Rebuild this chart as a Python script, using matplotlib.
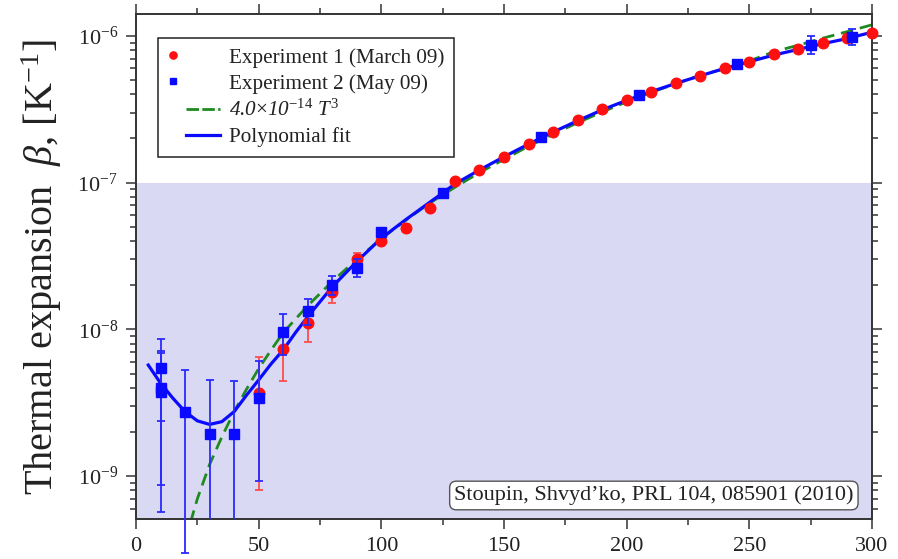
import numpy as np
import matplotlib
matplotlib.use("Agg")
import matplotlib.pyplot as plt
from matplotlib.ticker import MultipleLocator, NullFormatter
from matplotlib.lines import Line2D
from matplotlib.legend_handler import HandlerLine2D

plt.rcParams['font.family'] = ['Liberation Serif', 'DejaVu Serif']
plt.rcParams['mathtext.fontset'] = 'custom'
plt.rcParams['mathtext.rm'] = 'Liberation Serif'
plt.rcParams['mathtext.it'] = 'Liberation Serif:italic'
plt.rcParams['mathtext.bf'] = 'Liberation Serif:bold'

# --- data ---

# Experiment 1 (March 09), red circles
t_exp1 = [50, 60, 70, 80, 90, 100, 110, 120, 130, 140, 150, 160, 170, 180,
          190, 200, 210, 220, 230, 240, 250, 260, 270, 280, 290, 300]
beta_exp1 = [3.66e-9, 7.3e-9, 1.1e-8, 1.8e-8, 3.0e-8, 4.03e-8, 4.93e-8, 6.69e-8,
             1.02e-7, 1.21e-7, 1.49e-7, 1.84e-7, 2.22e-7, 2.66e-7, 3.18e-7,
             3.66e-7, 4.17e-7, 4.75e-7, 5.37e-7, 6.08e-7, 6.68e-7, 7.5e-7,
             8.15e-7, 8.96e-7, 9.7e-7, 1.05e-6]
err_exp1 = [2.85e-9, 2.85e-9, 2.85e-9, 2.85e-9, 3e-9, 3e-9, 3e-9, 3e-9,
            3e-9, 3e-9, 3e-9, 3e-9, 3e-9, 3e-9, 3e-9, 3e-9, 3e-9, 3e-9,
            3e-9, 3e-9, 3e-9, 3e-9, 3e-9, 3e-9, 3e-9, 3e-9]

# Experiment 2 (May 09), blue squares
t_exp2 = [10, 10, 10, 20, 30, 40, 50, 60, 70, 80, 90, 100, 125, 165, 205,
          245, 275, 292]
beta_exp2 = [5.48e-9, 3.97e-9, 3.72e-9, 2.72e-9, 1.93e-9, 1.93e-9, 3.42e-9,
             9.64e-9, 1.34e-8, 2.01e-8, 2.63e-8, 4.61e-8, 8.55e-8, 2.04e-7,
             3.94e-7, 6.45e-7, 8.72e-7, 9.9e-7]
err_exp2_lo = [3.1e-9, 3.1e-9, 3.15e-9, 2.42e-9, 2.6e-9, 2.52e-9, 2.5e-9,
               3.0e-9, 2.7e-9, 3.0e-9, 3.7e-9, 3e-9, 3e-9, 3e-9, 3e-9, 3e-9,
               1.2e-7, 1.27e-7]
err_exp2_hi = [3.1e-9, 3.16e-9, 3.15e-9, 2.53e-9, 2.6e-9, 2.52e-9, 2.65e-9,
               3.0e-9, 2.7e-9, 3.0e-9, 3.7e-9, 3e-9, 3e-9, 3e-9, 3e-9, 3e-9,
               1.2e-7, 1.27e-7]
unclipped_t = 20  # this error bar runs past the bottom axis in the original

# 4.0e-14 T^3 curve (green dashed)
t_cube = [20, 25, 30, 35, 40, 45, 50, 55, 60, 70, 80, 90, 100, 110, 120, 130,
          140, 150, 160, 170, 180, 190, 200, 210, 220, 230, 240, 250, 260,
          270, 280, 290, 300]
beta_cube = [3.6e-10, 7.0e-10, 1.2e-9, 1.85e-9, 2.75e-9, 3.9e-9, 5.4e-9,
             7.2e-9, 9.5e-9, 1.45e-8, 2.12e-8, 3.0e-8, 4.15e-8, 5.55e-8,
             7.3e-8, 9.3e-8, 1.17e-7, 1.44e-7, 1.77e-7, 2.14e-7, 2.56e-7,
             3.03e-7, 3.55e-7, 4.12e-7, 4.72e-7, 5.37e-7, 6.0e-7, 6.75e-7,
             7.8e-7, 8.65e-7, 9.65e-7, 1.07e-6, 1.19e-6]

# polynomial fit (blue solid)
t_fit = [5, 10, 15, 20, 25, 30, 35, 40, 45, 50, 55, 60, 65, 70, 80, 90, 100,
         110, 120, 125, 130, 140, 150, 160, 170, 180, 190, 200, 210, 220, 230,
         240, 250, 260, 270, 280, 290, 300]
beta_fit = [5.71e-9, 4.3e-9, 3.4e-9, 2.75e-9, 2.38e-9, 2.25e-9, 2.35e-9,
            2.75e-9, 3.55e-9, 4.52e-9, 5.8e-9, 7.24e-9, 9.5e-9, 1.22e-8,
            1.95e-8, 2.9e-8, 4.18e-8, 5.6e-8, 7.4e-8, 8.5e-8, 9.8e-8, 1.22e-7,
            1.5e-7, 1.83e-7, 2.21e-7, 2.64e-7, 3.13e-7, 3.64e-7, 4.17e-7,
            4.74e-7, 5.35e-7, 6.0e-7, 6.67e-7, 7.4e-7, 8.1e-7, 8.85e-7,
            9.6e-7, 1.06e-6]

SHADE_TOP = 1e-7

RED = '#ff1010'
BLUE = '#0a0aff'
GREEN = '#1f8a1f'
SHADE = '#d9d9f3'
INK = '#222222'


class PartHandler(HandlerLine2D):
    """Draw the legend handle only on a part of the handle box."""
    def __init__(self, start, stop, **kw):
        super().__init__(**kw)
        self.start, self.stop = start, stop

    def create_artists(self, legend, orig_handle, xdescent, ydescent,
                       width, height, fontsize, trans):
        arts = super().create_artists(legend, orig_handle, xdescent, ydescent,
                                      width, height, fontsize, trans)
        xs = -xdescent + width * np.linspace(self.start, self.stop, 3)
        for a in arts:
            a.set_xdata(xs)
        return arts


fig = plt.figure(figsize=(8.98, 5.59), dpi=100)
ax = fig.add_axes([136 / 898, 40 / 559, 736 / 898, 505 / 559])
ax.set_yscale('log')

ax.axhspan(1e-12, SHADE_TOP, color=SHADE, lw=0, zorder=0)

ax.plot(t_cube, beta_cube, color=GREEN, lw=2.0, ls=(0, (4.5, 2.5)), zorder=2)
ax.plot(t_fit, beta_fit, color=BLUE, lw=2.3, zorder=3)

ax.errorbar(t_exp1, beta_exp1, yerr=err_exp1, fmt='o', color=RED, ms=7.6,
            mec=RED, ecolor='#ff4d4d', elinewidth=1.3, capsize=3.2,
            capthick=1.3, zorder=4, clip_on=False)

t2 = np.array(t_exp2)
b2 = np.array(beta_exp2)
lo = np.array(err_exp2_lo)
hi = np.array(err_exp2_hi)
m = t2 != unclipped_t
ax.errorbar(t2[m], b2[m], yerr=[lo[m], hi[m]], fmt='s', color=BLUE, ms=6.6,
            mec=BLUE, ecolor='#2a2aff', elinewidth=1.3, capsize=3.2,
            capthick=1.3, zorder=5)
ax.errorbar(t2[~m], b2[~m], yerr=[lo[~m], hi[~m]], fmt='s', color=BLUE,
            ms=6.6, mec=BLUE, ecolor='#2a2aff', elinewidth=1.3, capsize=3.2,
            capthick=1.3, zorder=5, clip_on=False)

ax.set_xlim(0, 300)
ax.set_ylim(5.1e-10, 1.41e-6)
ax.xaxis.set_major_locator(MultipleLocator(50))
ax.xaxis.set_minor_locator(MultipleLocator(25))
ax.yaxis.set_minor_formatter(NullFormatter())

for s in ax.spines.values():
    s.set_color('#333333')
    s.set_linewidth(1.4)
ax.tick_params(which='both', direction='out', top=True, right=True,
               color='#333333', width=1.1)
ax.tick_params(which='major', length=7, labelsize=16, labelcolor=INK)
ax.tick_params(which='minor', length=4)
ax.tick_params(axis='x', pad=6)
ax.tick_params(axis='y', pad=6)

fig.text(0.046, 0.522, r"Thermal expansion  $\beta$, [K$^{\mathregular{-1}}$]",
         rotation=90, ha='center', va='center', fontsize=29, color=INK)

handles = [
    Line2D([], [], marker='o', ls='none', color=RED, ms=5.2),
    Line2D([], [], marker='s', ls='none', color=BLUE, ms=4.8),
    Line2D([], [], color=GREEN, lw=2.0, ls=(0, (4.5, 1.2))),
    Line2D([], [], color=BLUE, lw=2.3),
]
labels = [
    'Experiment 1 (March 09)',
    'Experiment 2 (May 09)',
    r'4.0$\times$10$^{\mathit{-14}}$ $\mathit{T}^{\mathit{3}}$',
    'Polynomial fit',
]
hmap = {handles[0]: PartHandler(0.1, 0.1), handles[1]: PartHandler(0.1, 0.1),
        handles[2]: PartHandler(0.34, 1.0), handles[3]: PartHandler(0.34, 1.0)}
leg = ax.legend(handles, labels, handler_map=hmap, loc='upper left',
                bbox_to_anchor=(0.030, 0.952), borderaxespad=0, numpoints=1,
                fontsize=15.2, handlelength=2.5, handletextpad=0.4,
                labelspacing=0.3, borderpad=0.45, fancybox=False,
                framealpha=1, edgecolor='#222222')
leg.get_frame().set_linewidth(1.1)
for t in leg.get_texts():
    t.set_color(INK)
leg.get_texts()[2].set_fontstyle('italic')

ax.text(0.975, 0.027, "Stoupin, Shvyd\u2019ko, PRL 104, 085901 (2010)",
        transform=ax.transAxes, ha='right', va='bottom', fontsize=16,
        color=INK, zorder=6,
        bbox=dict(boxstyle='round,pad=0.2,rounding_size=0.3', fc='white',
                  ec='#555555', lw=1))

fig.savefig('out.png', dpi=100)
